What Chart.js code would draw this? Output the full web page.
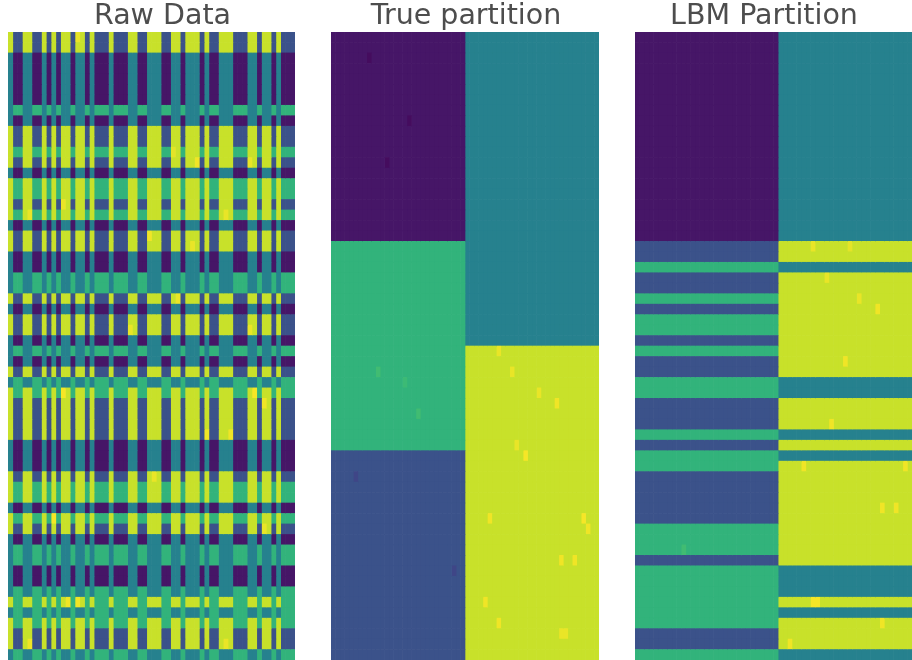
<!DOCTYPE html>
<html><head><meta charset="utf-8">
<script src="https://cdn.jsdelivr.net/npm/chart.js@4"></script>
<style>
html,body{margin:0;padding:0;background:#fff;width:912px;height:660px;overflow:hidden}
.p{position:absolute;top:0;height:660px}
</style></head><body>
<div class="p" style="left:8px;width:309px"><canvas id="c0"></canvas></div>
<div class="p" style="left:331px;width:270px"><canvas id="c1"></canvas></div>
<div class="p" style="left:616px;width:296px"><canvas id="c2"></canvas></div>
<script>
// Row group of each of the 60 rows, read top to bottom from each panel
const rawRows  = "SSPPPPPQPSSRSPRRSRPSSPPQQSPSSPQPSQRSSSSPPPSRRPRSPQQPPQRQRSSQ".split("");
const trueRows = "PPPPPPPPPPPPPPPPPPPPQQQQQQQQQQRRRRRRRRRRSSSSSSSSSSSSSSSSSSSS".split("");
const lbmRows  = "PPPPPPPPPPPPPPPPPPPPSSQSSRSRRSRSSQQSSSQSQRSSSSSRRRSQQQRQRSSQ".split("");
// Column group of each of the 60 columns, read left to right (1 = high)
const rawCols  = "100110010101101101000100011001110011011101001110001101101000".split("").map(Number);
const trueCols = "000000000000000000000000000000111111111111111111111111111111".split("").map(Number);
const lbmCols  = "000000000000000000000000000000011111111111111111111111111111".split("").map(Number);
// Estimated block values on the colour scale, [low column, high column]
const blockP = [0.06, 0.44];
const blockQ = [0.65, 0.44];
const blockR = [0.65, 0.92];
const blockS = [0.25, 0.92];
const blocks = {P: blockP, Q: blockQ, R: blockR, S: blockS};
// Individually visible cells: [row, column, value]
const rawCells = [[0,14,.97],[12,39,.98],[11,34,.96],[17,45,.97],[16,11,.97],[17,4,.97],[12,50,.97],[19,29,.98],[34,51,.99],[34,11,.99],[35,53,.98],[20,38,.97],[38,41,.98],[38,46,.98],[28,25,.97],[28,50,.97],[25,35,.97],[46,9,.99],[54,12,.98],[54,14,.98],[58,4,.98],[58,45,.97],[47,53,.97],[42,30,.97]];
const trueCells = [[40,43,.99],[35,50,.98],[46,56,.99],[46,35,.98],[50,51,.98],[50,54,.98],[54,34,.98],[56,37,.98],[57,51,.97],[57,52,.97],[47,57,.98],[30,37,.97],[32,40,.97],[34,46,.97],[39,41,.97],[36,19,.69],[32,10,.69],[33,16,.68],[51,27,.21],[42,5,.21],[2,8,.03],[12,12,.03],[8,17,.03]];
const lbmCells = [[31,45,.98],[20,38,.97],[26,52,.98],[20,46,.96],[23,41,.97],[25,48,.97],[37,42,.98],[45,53,.98],[45,56,.98],[41,36,.98],[41,58,.98],[54,38,.99],[54,39,.99],[58,33,.98],[56,53,.98],[49,10,.69]];
const titles = ["Raw Data", "True partition", "LBM Partition"];

const viridis = [[68,1,84],[72,40,120],[62,74,137],[49,104,142],[38,130,142],[31,158,137],[53,183,121],[109,205,89],[180,222,44],[253,231,37]];
function colour(v){
  const t = v * (viridis.length - 1), i = Math.min(Math.floor(t), viridis.length - 2), f = t - i;
  const c = viridis[i].map((a, k) => Math.round(a + (viridis[i + 1][k] - a) * f));
  return `rgb(${c[0]},${c[1]},${c[2]})`;
}
function draw(id, rows, cols, cells, title, side, gutter){
  const val = (r, c) => { const m = cells.find(x => x[0] === r && x[1] === c); return m ? m[2] : blocks[rows[r]][cols[c]]; };
  new Chart(document.getElementById(id), {
    type: "bar",
    data: {
      labels: rows.map((_, i) => i),
      datasets: cols.map((_, c) => ({
        data: rows.map(() => 1),
        backgroundColor: rows.map((_, r) => colour(val(r, c))),
        borderWidth: 0, barPercentage: 1, categoryPercentage: 1
      }))
    },
    options: {
      indexAxis: "y", responsive: true, maintainAspectRatio: false, animation: false,
      layout: {padding: 0},
      plugins: {
        legend: {display: false}, tooltip: {enabled: false},
        title: {display: true, text: title, color: "#4d4d4d",
          font: {family: "DejaVu Sans", size: 28.5, weight: "normal", lineHeight: 1},
          padding: {top: 2.5, bottom: 1}}
      },
      scales: {
        x: {stacked: true, display: false, min: 0, max: cols.length},
        y: {stacked: true, position: side,
            ticks: {display: false}, grid: {display: false}, border: {display: false},
            afterFit(s){ s.width = gutter; }}
      }
    }
  });
}
draw("c0", rawRows, rawCols, rawCells, titles[0], "right", 22);
draw("c1", trueRows, trueCols, trueCells, titles[1], "right", 2);
draw("c2", lbmRows, lbmCols, lbmCells, titles[2], "left", 19);
</script>
</body></html>
